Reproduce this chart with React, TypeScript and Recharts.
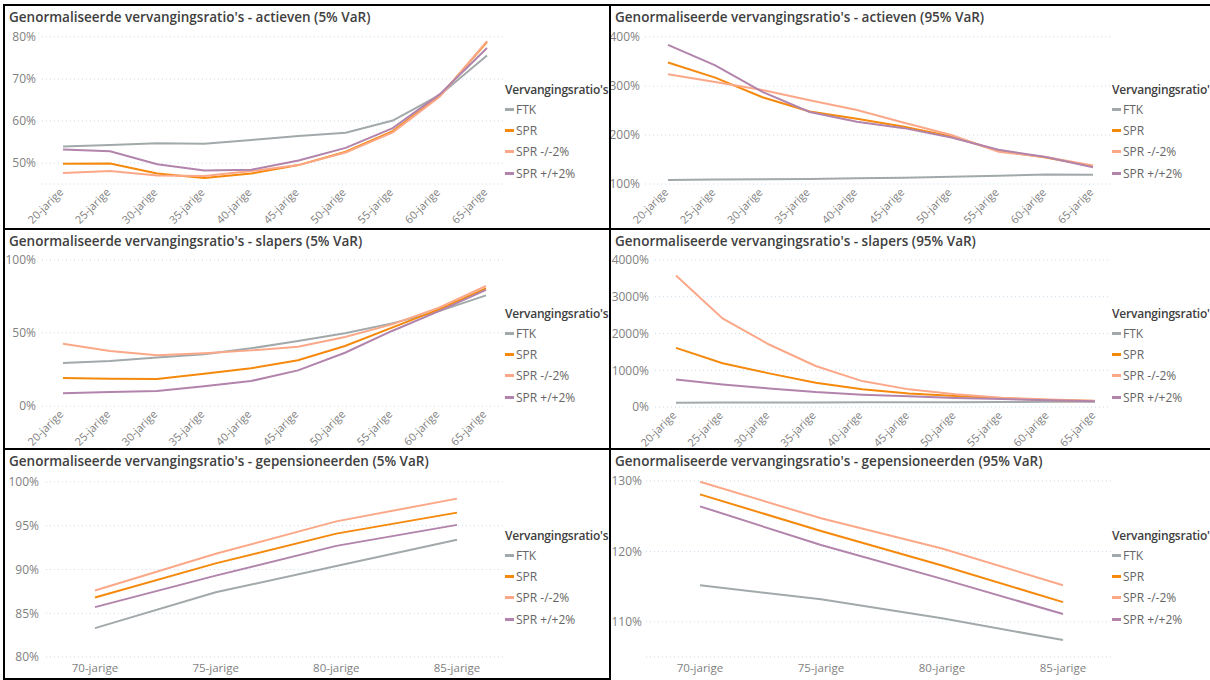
import { LineChart, Line, XAxis, YAxis, CartesianGrid } from "recharts";

const WORK_AGES = ["20-jarige", "25-jarige", "30-jarige", "35-jarige", "40-jarige", "45-jarige", "50-jarige", "55-jarige", "60-jarige", "65-jarige"];
const RETIRED_AGES = ["70-jarige", "75-jarige", "80-jarige", "85-jarige"];

// actieven 5% VaR
const ACT5_FTK = [53.9, 54.3, 54.7, 54.6, 55.5, 56.4, 57.2, 60.1, 66.2, 75.6];
const ACT5_SPR = [49.8, 49.9, 47.5, 46.4, 47.5, 49.5, 52.7, 57.6, 66.0, 78.8];
const ACT5_SPR_MIN = [47.6, 48.1, 47.0, 46.9, 48.1, 49.5, 52.5, 57.3, 65.8, 79.0];
const ACT5_SPR_PLUS = [53.2, 52.8, 49.7, 48.2, 48.4, 50.6, 53.6, 58.3, 66.4, 77.4];

// actieven 95% VaR
const ACT95_FTK = [108, 109, 109.5, 110, 111.5, 113, 115, 117, 119.5, 119];
const ACT95_SPR = [348, 317, 277, 248, 233, 217, 197, 168, 154, 136];
const ACT95_SPR_MIN = [324, 308, 292, 271, 251, 225, 200, 166, 155, 138];
const ACT95_SPR_PLUS = [384, 342, 288, 247, 227, 214, 195, 170, 155, 134];

// slapers 5% VaR
const SLP5_FTK = [29.5, 30.8, 33.3, 35.4, 39.5, 44.5, 49.8, 56.6, 65.0, 75.8];
const SLP5_SPR = [19.2, 18.7, 18.5, 22.1, 25.8, 31.3, 41.1, 53.7, 66.2, 80.6];
const SLP5_SPR_MIN = [42.7, 37.7, 34.7, 36.1, 38.1, 40.6, 47.3, 55.9, 67.4, 82.2];
const SLP5_SPR_PLUS = [8.7, 9.6, 10.3, 13.5, 17.1, 24.4, 36.5, 51.4, 65.0, 79.5];

// slapers 95% VaR
const SLP95_FTK = [118, 120, 122, 124, 126, 128, 131, 135, 140, 145];
const SLP95_SPR = [1610, 1190, 915, 660, 480, 370, 300, 235, 190, 160];
const SLP95_SPR_MIN = [3580, 2410, 1700, 1115, 705, 480, 345, 255, 205, 170];
const SLP95_SPR_PLUS = [750, 615, 505, 405, 335, 290, 245, 215, 185, 155];

// gepensioneerden 5% VaR
const GEP5_FTK = [83.3, 87.4, 90.4, 93.4];
const GEP5_SPR = [86.8, 90.7, 94.1, 96.5];
const GEP5_SPR_MIN = [87.6, 91.8, 95.5, 98.1];
const GEP5_SPR_PLUS = [85.7, 89.3, 92.7, 95.1];

// gepensioneerden 95% VaR
const GEP95_FTK = [115.2, 113.2, 110.5, 107.4];
const GEP95_SPR = [128.1, 122.9, 118.0, 112.8];
const GEP95_SPR_MIN = [129.9, 124.7, 120.4, 115.2];
const GEP95_SPR_PLUS = [126.4, 120.9, 116.1, 111.1];

const TICKS_ACT5 = [50, 60, 70, 80];
const TICKS_ACT95 = [100, 200, 300, 400];
const TICKS_SLP5 = [0, 50, 100];
const TICKS_SLP95 = [0, 1000, 2000, 3000, 4000];
const TICKS_GEP5 = [80, 85, 90, 95, 100];
const TICKS_GEP95 = [110, 120, 130];

const SERIES = [
  { key: "ftk", name: "FTK", color: "#A2A9AB" },
  { key: "spr", name: "SPR", color: "#F5890C" },
  { key: "sprMin", name: "SPR -/-2%", color: "#FBA888" },
  { key: "sprPlus", name: "SPR +/+2%", color: "#B284AC" },
];

const FONT = "'Segoe UI', 'Open Sans', sans-serif";
const TICK_COLOR = "#7f7f7f";

type Row = { cat: string; ftk: number; spr: number; sprMin: number; sprPlus: number };

function buildRows(cats: string[], ftk: number[], spr: number[], sprMin: number[], sprPlus: number[]): Row[] {
  return cats.map((cat, i) => ({ cat, ftk: ftk[i], spr: spr[i], sprMin: sprMin[i], sprPlus: sprPlus[i] }));
}

type Box = { x: number; y: number; w: number; h: number };
type Plot = { l: number; t: number; r: number; b: number };

interface PanelProps {
  title: string;
  box: Box;
  plot: Plot;
  rows: Row[];
  domain: [number, number];
  ticks: number[];
  pad: [number, number];
  rotated?: boolean;
  labelGap: number;
  legendX: number;
  legendY: number;
}

const RotatedTick = (props: any) => {
  const { x, y, payload } = props;
  const ax = x + 1;
  const ay = y + 9;
  return (
    <text x={ax} y={ay} textAnchor="end" transform={`rotate(-45 ${ax} ${ay})`} fill={TICK_COLOR} fontSize={11} fontFamily={FONT}>
      {payload.value}
    </text>
  );
};

const FlatTick = (props: any) => {
  const { x, y, payload } = props;
  return (
    <text x={x} y={y + 15} textAnchor="middle" fill={TICK_COLOR} fontSize={11.5} fontFamily={FONT}>
      {payload.value}
    </text>
  );
};

function Panel({ title, box, plot, rows, domain, ticks, pad, rotated, labelGap, legendX, legendY }: PanelProps) {
  const yW = plot.l - box.x;
  const xH = box.y + box.h - plot.b;
  return (
    <div style={{ position: "absolute", left: box.x, top: box.y, width: box.w, height: box.h }}>
      <div
        style={{
          position: "absolute",
          left: 5,
          top: 3,
          fontSize: 13.5,
          fontWeight: 600,
          color: "#404040",
          whiteSpace: "nowrap",
        }}
      >
        {title}
      </div>
      <LineChart
        width={box.w}
        height={box.h}
        data={rows}
        style={{ overflow: "visible" }}
        margin={{ top: plot.t - box.y, right: box.x + box.w - plot.r, bottom: 0, left: 0 }}
      >
        <CartesianGrid vertical={false} stroke="#C6DBEB" strokeDasharray="1 3" />
        <XAxis
          dataKey="cat"
          height={xH}
          interval={0}
          axisLine={false}
          tickLine={false}
          tickSize={0}
          tickMargin={0}
          padding={{ left: pad[0], right: pad[1] }}
          tick={rotated ? <RotatedTick /> : <FlatTick />}
        />
        <YAxis
          type="number"
          width={yW}
          domain={domain}
          ticks={ticks}
          interval={0}
          allowDataOverflow
          axisLine={false}
          tickLine={false}
          tickSize={0}
          tickMargin={labelGap}
          tick={{ fill: TICK_COLOR, fontSize: 12, fontFamily: FONT }}
          tickFormatter={(v: number) => `${v}%`}
        />
        {SERIES.map((s) => (
          <Line
            key={s.key}
            type="linear"
            dataKey={s.key}
            name={s.name}
            stroke={s.color}
            strokeWidth={2}
            dot={false}
            activeDot={false}
            isAnimationActive={false}
          />
        ))}
      </LineChart>
      <div
        style={{
          position: "absolute",
          left: legendX - box.x,
          top: legendY - box.y - 8,
          fontSize: 12,
          fontWeight: 600,
          letterSpacing: -0.2,
          color: "#404040",
          lineHeight: "16px",
          whiteSpace: "nowrap",
        }}
      >
        Vervangingsratio's
      </div>
      {SERIES.map((s, i) => (
        <div
          key={s.key}
          style={{
            position: "absolute",
            left: legendX - box.x,
            top: legendY - box.y + 19 + i * 21.4 - 8,
            height: 16,
            display: "flex",
            alignItems: "center",
            fontSize: 12,
            color: "#666666",
            whiteSpace: "nowrap",
          }}
        >
          <span style={{ display: "inline-block", width: 9, height: 3, background: s.color, marginRight: 2 }} />
          {s.name}
        </div>
      ))}
    </div>
  );
}

const line = (l: number, t: number, w: number, h: number) => (
  <div style={{ position: "absolute", left: l, top: t, width: w, height: h, background: "#000" }} />
);

export default function App() {
  return (
    <div
      style={{
        position: "absolute",
        left: 0,
        top: 0,
        width: 1210,
        height: 680,
        background: "#fff",
        overflow: "hidden",
        fontFamily: FONT,
      }}
    >
      <Panel
        title="Genormaliseerde vervangingsratio's - actieven (5% VaR)"
        box={{ x: 4, y: 5, w: 606, h: 224 }}
        plot={{ l: 42, t: 37, r: 506, b: 184 }}
        rows={buildRows(WORK_AGES, ACT5_FTK, ACT5_SPR, ACT5_SPR_MIN, ACT5_SPR_PLUS)}
        domain={[45, 80]}
        ticks={TICKS_ACT5}
        pad={[21, 19]}
        rotated
        labelGap={6}
        legendX={505}
        legendY={90}
      />
      <Panel
        title="Genormaliseerde vervangingsratio's - actieven (95% VaR)"
        box={{ x: 610, y: 5, w: 600, h: 224 }}
        plot={{ l: 645, t: 37, r: 1111, b: 184 }}
        rows={buildRows(WORK_AGES, ACT95_FTK, ACT95_SPR, ACT95_SPR_MIN, ACT95_SPR_PLUS)}
        domain={[100, 400]}
        ticks={TICKS_ACT95}
        pad={[23, 18]}
        rotated
        labelGap={5}
        legendX={1112}
        legendY={90}
      />
      <Panel
        title="Genormaliseerde vervangingsratio's - slapers (5% VaR)"
        box={{ x: 4, y: 229, w: 606, h: 220 }}
        plot={{ l: 42, t: 260, r: 506, b: 406 }}
        rows={buildRows(WORK_AGES, SLP5_FTK, SLP5_SPR, SLP5_SPR_MIN, SLP5_SPR_PLUS)}
        domain={[0, 100]}
        ticks={TICKS_SLP5}
        pad={[21, 20]}
        rotated
        labelGap={6}
        legendX={505}
        legendY={314}
      />
      <Panel
        title="Genormaliseerde vervangingsratio's - slapers (95% VaR)"
        box={{ x: 610, y: 229, w: 600, h: 220 }}
        plot={{ l: 655, t: 260, r: 1111, b: 407 }}
        rows={buildRows(WORK_AGES, SLP95_FTK, SLP95_SPR, SLP95_SPR_MIN, SLP95_SPR_PLUS)}
        domain={[0, 4000]}
        ticks={TICKS_SLP95}
        pad={[21, 16]}
        rotated
        labelGap={6}
        legendX={1112}
        legendY={314}
      />
      <Panel
        title="Genormaliseerde vervangingsratio's - gepensioneerden (5% VaR)"
        box={{ x: 4, y: 449, w: 606, h: 231 }}
        plot={{ l: 46, t: 482, r: 506, b: 657 }}
        rows={buildRows(RETIRED_AGES, GEP5_FTK, GEP5_SPR, GEP5_SPR_MIN, GEP5_SPR_PLUS)}
        domain={[80, 100]}
        ticks={TICKS_GEP5}
        pad={[49, 49]}
        labelGap={7}
        legendX={505}
        legendY={536}
      />
      <Panel
        title="Genormaliseerde vervangingsratio's - gepensioneerden (95% VaR)"
        box={{ x: 610, y: 449, w: 600, h: 231 }}
        plot={{ l: 646, t: 481, r: 1111, b: 657 }}
        rows={buildRows(RETIRED_AGES, GEP95_FTK, GEP95_SPR, GEP95_SPR_MIN, GEP95_SPR_PLUS)}
        domain={[105, 130]}
        ticks={TICKS_GEP95}
        pad={[54, 48]}
        labelGap={4}
        legendX={1112}
        legendY={536}
      />
      {line(3, 4, 1207, 2)}
      {line(3, 228, 1207, 2)}
      {line(3, 448, 1207, 2)}
      {line(3, 678, 608, 2)}
      {line(3, 4, 2, 676)}
      {line(609, 4, 2, 676)}
    </div>
  );
}
